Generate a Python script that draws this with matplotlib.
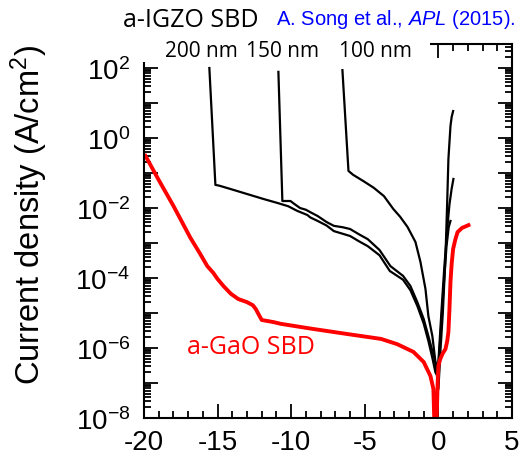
import numpy as np
import matplotlib
matplotlib.use("Agg")
import matplotlib.pyplot as plt
from matplotlib import ticker
from matplotlib.patches import Rectangle

plt.rcParams['font.family'] = 'Liberation Sans'
plt.rcParams['mathtext.fontset'] = 'custom'
plt.rcParams['mathtext.rm'] = 'Liberation Sans'
plt.rcParams['mathtext.it'] = 'Liberation Sans:italic'
plt.rcParams['axes.unicode_minus'] = False

# a-IGZO SBDs, log10 of current density (A/cm^2) vs voltage (V)
x_200 = [-15.56, -15.15, -14.9, -14.1, -13.0, -11.9, -10.9, -10.2, -9.6, -8.9, -8.7, -8.2,
         -7.6, -7.1, -6.0, -5.4, -4.8, -4.0, -3.3, -2.4, -1.9, -1.43, -1.0, -0.68, -0.4,
         -0.2, -0.05, 0.15, 0.35, 0.55, 0.7, 0.82]
ly_200 = [2.0, -1.34, -1.36, -1.46, -1.6, -1.74, -1.86, -1.95, -2.08, -2.2, -2.27, -2.37,
          -2.5, -2.66, -2.8, -2.95, -3.09, -3.35, -3.8, -4.05, -4.35, -4.8, -5.3, -5.8, -6.3,
          -6.7, -6.8, -5.6, -4.3, -3.1, -2.55, -2.37]

x_150 = [-10.87, -10.6, -10.05, -9.8, -9.4, -9.0, -8.7, -8.2, -7.6, -7.1, -6.5, -6.0,
         -5.4, -4.8, -4.0, -3.26, -2.4, -1.9, -1.43, -1.0, -0.68, -0.4, -0.15, 0.0, 0.2,
         0.4, 0.6, 0.75, 0.9, 1.02]
ly_150 = [1.89, -1.8, -1.8, -1.88, -2.0, -2.05, -2.12, -2.23, -2.4, -2.51, -2.55, -2.6,
          -2.75, -2.89, -3.2, -3.66, -3.94, -4.23, -4.69, -5.17, -5.66, -6.1, -6.5, -6.4,
          -5.0, -3.7, -2.6, -1.9, -1.45, -1.17]

x_100 = [-6.52, -6.11, -5.8, -5.1, -4.4, -3.7, -3.06, -2.6, -2.1, -1.56, -1.22, -0.88,
         -0.68, -0.41, -0.2, 0.0, 0.15, 0.3, 0.48, 0.6, 0.68, 0.82, 0.9, 1.0]
ly_100 = [1.94, -0.94, -1.05, -1.23, -1.42, -1.66, -2.03, -2.25, -2.54, -2.97, -3.54, -4.31,
          -5.09, -5.66, -6.4, -7.17, -6.0, -5.0, -3.4, -1.8, -0.6, 0.34, 0.6, 0.77]

# a-GaO SBD
x_gao = [-19.9, -19.0, -18.0, -16.85, -16.2, -15.7, -15.3, -15.0, -14.6, -14.1, -13.6,
         -13.0, -12.6, -12.4, -12.2, -12.0, -11.2, -10.7, -8.6, -6.2, -3.9, -2.8, -1.7,
         -1.0, -0.54, -0.34, -0.25, -0.15, -0.05, 0.0, 0.14, 0.3, 0.48, 0.6, 0.68, 0.75,
         0.82, 0.9, 1.0, 1.15, 1.3, 1.6, 2.04]
ly_gao = [-0.51, -1.2, -1.94, -2.85, -3.3, -3.66, -3.85, -4.03, -4.23, -4.45, -4.6,
          -4.69, -4.78, -4.89, -5.05, -5.2, -5.26, -5.31, -5.45, -5.6, -5.74, -5.89, -6.11,
          -6.4, -6.8, -7.17, -8.5, -8.5, -7.0, -6.5, -6.3, -6.15, -6.03, -5.8, -5.54, -4.9,
          -4.11, -3.6, -3.17, -2.9, -2.69, -2.57, -2.49]

thickness_labels = ['200 nm', '150 nm', '100 nm']

W, H = 521, 464
fig = plt.figure(figsize=(W / 100, H / 100), dpi=100)
ax = fig.add_axes([144 / W, 45 / H, 368 / W, 374 / H])

for xs, ls in [(x_200, ly_200), (x_150, ly_150), (x_100, ly_100)]:
    ax.plot(xs, 10 ** np.array(ls), color='black', lw=1.6)
ax.plot(x_gao, 10 ** np.array(ly_gao), color='#ff0000', lw=2.8)

ax.set_yscale('log')
ax.set_xlim(-20, 5)
ax.set_ylim(1e-8, 10 ** 2.686)

ax.xaxis.set_major_locator(ticker.MultipleLocator(5))
ax.xaxis.set_minor_locator(ticker.MultipleLocator(1))
ax.yaxis.set_major_locator(ticker.LogLocator(base=10, numticks=50))
ax.yaxis.set_minor_locator(ticker.LogLocator(base=10, subs=np.arange(2, 10), numticks=50))


def fmt_y(v, pos):
    e = int(round(np.log10(v)))
    if e % 2:
        return ''
    return r'$\mathregular{10^{%d}}$' % e


ax.yaxis.set_major_formatter(ticker.FuncFormatter(fmt_y))
ax.yaxis.set_minor_formatter(ticker.NullFormatter())

ax.tick_params(which='both', direction='in', top=True, right=True, width=1.3, labelsize=20)
ax.tick_params(which='major', length=10)
ax.tick_params(which='minor', length=5)
ax.tick_params(axis='x', pad=8)
ax.tick_params(axis='y', pad=10)
for s in ax.spines.values():
    s.set_linewidth(1.5)

ax.set_ylabel('Current density (A/cm$^2$)', fontsize=23.5)
ax.yaxis.set_label_coords(-0.255, 0.545)

# white strip hiding the top of the frame behind the labels
fig.add_artist(Rectangle((141 / W, 1 - 63 / H), 289 / W, 63 / H, transform=fig.transFigure,
                         facecolor='white', edgecolor='none', zorder=2))

fig.text(123 / W, 1 - 27 / H, 'a-IGZO SBD', fontsize=18, family='Open Sans',
         va='baseline', ha='left', zorder=3)
fig.text(276 / W, 1 - 25 / H, r'A. Song et al., $\it{APL}$ (2015).', fontsize=14.5,
         color='#0000ff', va='baseline', ha='left', zorder=3)
for lab, cx in zip(thickness_labels, [201, 282, 375]):
    fig.text(cx / W, 1 - 57 / H, lab, fontsize=15, family='Open Sans',
             va='baseline', ha='center', zorder=3)

ax.text(-17.05, 10 ** -5.95, 'a-GaO SBD', color='#ff0000', fontsize=18, family='Open Sans',
        ha='left', va='center')

fig.savefig('out.png', dpi=100)
